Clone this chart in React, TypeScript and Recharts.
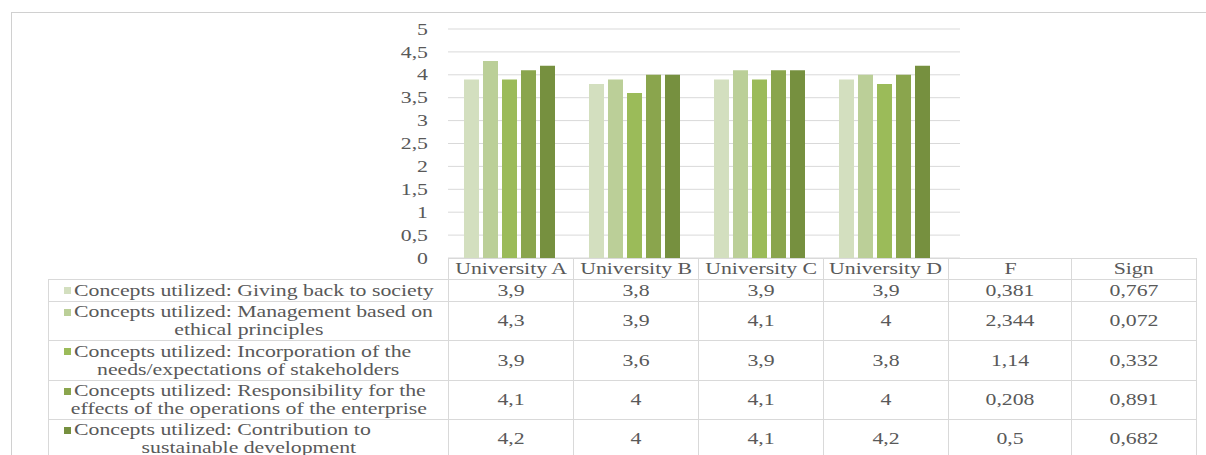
import React from "react";
import { Bar, BarChart, CartesianGrid, XAxis, YAxis } from "recharts";

const universities = ["University A", "University B", "University C", "University D"];

const givingBack = [3.9, 3.8, 3.9, 3.9];
const ethicalPrinciples = [4.3, 3.9, 4.1, 4];
const stakeholderNeeds = [3.9, 3.6, 3.9, 3.8];
const operationEffects = [4.1, 4, 4.1, 4];
const sustainableDev = [4.2, 4, 4.1, 4.2];

const fValues = [0.381, 2.344, 1.14, 0.208, 0.5];
const signValues = [0.767, 0.072, 0.332, 0.891, 0.682];

const seriesKeys = ["giving", "ethics", "stakeholders", "effects", "sustainable"];
const seriesValues = [givingBack, ethicalPrinciples, stakeholderNeeds, operationEffects, sustainableDev];
const seriesLabels = [
  ["Concepts utilized: Giving back to society"],
  ["Concepts utilized: Management based on", "ethical principles"],
  ["Concepts utilized: Incorporation of the", "needs/expectations of stakeholders"],
  ["Concepts utilized: Responsibility for the", "effects of the operations of the enterprise"],
  ["Concepts utilized: Contribution to", "sustainable development"],
];
const seriesColors = ["#D3DFBF", "#BBCF98", "#9BBB59", "#8AA54D", "#76903F"];

const yTicks = [0, 0.5, 1, 1.5, 2, 2.5, 3, 3.5, 4, 4.5, 5];
const statHeaders = ["F", "Sign"];

const FONT = "'Times New Roman', 'Liberation Serif', Times, 'DejaVu Serif', serif";
const TEXT = "#595959";
const RULE = "#D9D9D9";
const STRETCH = 1.36;

const fmt = (v: number) => String(v).replace(".", ",");

const chartData = universities.map((name, i) => {
  const row: any = { name };
  seriesKeys.forEach((k, s) => (row[k] = seriesValues[s][i]));
  return row;
});

const YTick = ({ x, y, payload }: any) => (
  <text
    x={0}
    y={0}
    dy="0.35em"
    textAnchor="end"
    fill={TEXT}
    transform={`translate(${x},${y}) scale(${STRETCH},1)`}
    style={{ fontFamily: FONT, fontSize: 16 }}
  >
    {fmt(payload.value)}
  </text>
);

const Wide = ({ children, origin = "center" }: any) => (
  <span style={{ display: "inline-block", transform: `scaleX(${STRETCH})`, transformOrigin: origin }}>
    {children}
  </span>
);

const cell: React.CSSProperties = {
  border: `1px solid ${RULE}`,
  padding: 0,
  textAlign: "center",
  verticalAlign: "middle",
  lineHeight: "18px",
  whiteSpace: "nowrap",
};

const rowHeights = [22, 39, 40, 39, 39];
const colWidths = [400, 125, 125, 125, 125, 123, 125];

function DataTable() {
  return (
    <table
      style={{
        position: "absolute",
        left: 48,
        top: 258,
        width: 1148,
        borderCollapse: "collapse",
        tableLayout: "fixed",
        fontFamily: FONT,
        fontSize: 16,
        color: TEXT,
      }}
    >
      <colgroup>
        {colWidths.map((w, i) => (
          <col key={i} style={{ width: w }} />
        ))}
      </colgroup>
      <tbody>
        <tr style={{ height: 21 }}>
          <td style={{ ...cell, border: "none" }} />
          {[...universities, ...statHeaders].map((h) => (
            <td key={h} style={cell}>
              <Wide>{h}</Wide>
            </td>
          ))}
        </tr>
        {seriesLabels.map((lines, s) => (
          <tr key={s} style={{ height: rowHeights[s] }}>
            <td style={{ ...cell, textAlign: "left" }}>
              <div style={{ paddingLeft: 15, display: "flex", alignItems: "center" }}>
                <span
                  style={{ width: 7, height: 7, background: seriesColors[s], marginRight: 3, flex: "none" }}
                />
                <Wide origin="left">{lines[0]}</Wide>
              </div>
              {lines[1] && (
                <div style={{ textAlign: "center" }}>
                  <Wide>{lines[1]}</Wide>
                </div>
              )}
            </td>
            {seriesValues[s].map((v, i) => (
              <td key={i} style={cell}>
                <Wide>{fmt(v)}</Wide>
              </td>
            ))}
            <td style={cell}>
              <Wide>{fmt(fValues[s])}</Wide>
            </td>
            <td style={cell}>
              <Wide>{fmt(signValues[s])}</Wide>
            </td>
          </tr>
        ))}
      </tbody>
    </table>
  );
}

export default function App() {
  return (
    <div
      style={{
        position: "absolute",
        left: 0,
        top: 0,
        width: 1206,
        height: 455,
        overflow: "hidden",
        background: "#fff",
      }}
    >
      <div
        style={{
          position: "absolute",
          left: 11,
          top: 12,
          right: -2,
          bottom: -2,
          borderTop: "1px solid #D0D0D0",
          borderLeft: "1px solid #D0D0D0",
        }}
      />
      <BarChart
        width={1206}
        height={455}
        data={chartData}
        margin={{ top: 29, right: 246, bottom: 197, left: 0 }}
        barGap={4}
        barCategoryGap={16}
        style={{ position: "absolute", left: 0, top: 0 }}
      >
        <CartesianGrid vertical={false} stroke={RULE} />
        <XAxis dataKey="name" hide padding={{ left: 0, right: 12 }} />
        <YAxis
          width={448}
          domain={[0, 5]}
          ticks={yTicks}
          axisLine={false}
          tickLine={false}
          tickSize={0}
          tickMargin={20}
          tick={<YTick />}
          interval={0}
        />
        {seriesKeys.map((k, s) => (
          <Bar key={k} dataKey={k} fill={seriesColors[s]} isAnimationActive={false} />
        ))}
      </BarChart>
      <DataTable />
    </div>
  );
}
